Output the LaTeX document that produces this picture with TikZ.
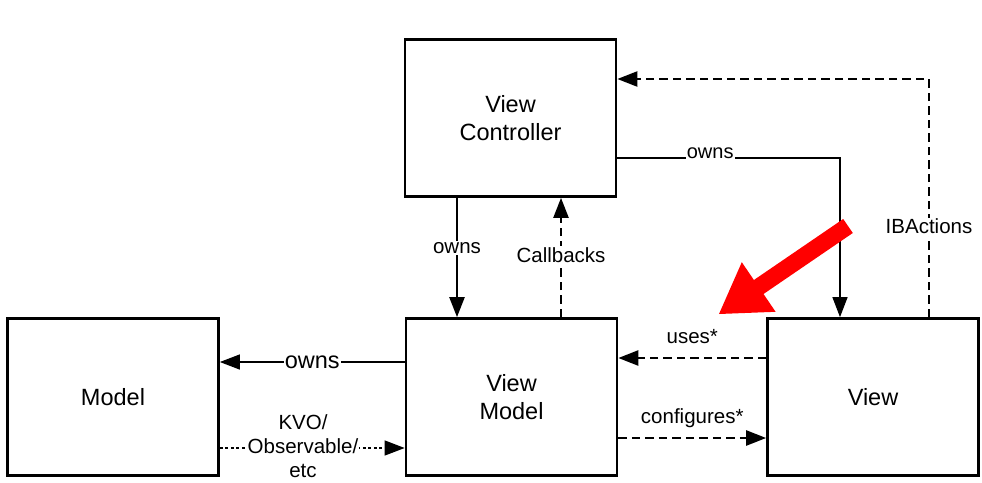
\documentclass[tikz,border=0pt]{standalone}
\usepackage{fontspec}
\setmainfont{Liberation Sans}
\usetikzlibrary{arrows.meta}
\begin{document}
\begin{tikzpicture}[x=1pt,y=-1pt,
  box/.style={draw=black, line width=2.7pt, minimum width=211pt, minimum height=157pt,
    align=center, inner sep=0pt, font=\fontsize{23.5}{28.5}\selectfont},
  lbl/.style={fill=white, inner sep=1.5pt, align=center, font=\fontsize{20.5}{25}\selectfont},
  tip/.style={-{Triangle[length=20pt,width=15pt]}},
  thinline/.style={line width=1.3pt},
  thickline/.style={line width=2.3pt},
  dashline/.style={line width=2.3pt, dash pattern=on 8.5pt off 5pt},
  dotline/.style={line width=1.2pt, dash pattern=on 3pt off 2.5pt}
]
\useasboundingbox[fill=white] (0,0) rectangle (982,482);

\node[box] (vc) at (510.5,118) {View\\Controller};
\node[box] (model) at (113,397) {Model};
\node[box] (vm) at (511.5,397) {View\\Model};
\node[box] (view) at (873,397) {View};

\coordinate (yOwnsM) at (0,362);
\coordinate (yKvo) at (0,448);
\coordinate (yUses) at (0,358);
\coordinate (yConf) at (0,438);
\coordinate (yIB) at (0,79);
\coordinate (yOwnsV) at (0,158);
\coordinate (xOwnsVM) at (457,0);
\coordinate (xCb) at (561,0);
\coordinate (xOwnsV) at (840,0);
\coordinate (xIB) at (929,0);

% View Model -> Model : owns
\draw[thinline, tip] (vm.west |- yOwnsM) -- node[lbl, pos=0.5, font=\fontsize{23.5}{28}\selectfont, inner sep=1pt] {owns} (model.east |- yOwnsM);

% Model -> View Model : KVO
\draw[dotline, tip] (model.east |- yKvo) -- node[lbl, pos=0.45, inner sep=0.5pt, yshift=2pt, font=\fontsize{20.5}{24}\selectfont] {KVO/\\Observable/\\etc} (vm.west |- yKvo);

% View Controller -> View Model : owns
\draw[thickline, tip] (vc.south -| xOwnsVM) -- node[lbl, pos=0.42] {owns} (vm.north -| xOwnsVM);

% View Model -> View Controller : Callbacks
\draw[dashline, tip] (vm.north -| xCb) -- node[lbl, pos=0.52] {Callbacks} (vc.south -| xCb);

% View Controller -> View : owns
\draw[thinline, tip] (vc.east |- yOwnsV) -- node[lbl, pos=0.417, anchor=base, inner ysep=1pt, inner xsep=1pt, font=\fontsize{20}{24}\selectfont] {owns} (xOwnsV |- yOwnsV) -- (view.north -| xOwnsV);

% View -> View Controller : IBActions
\draw[dashline, tip] (view.north -| xIB) -- node[lbl, pos=0.38] {IBActions} (xIB |- yIB) -- (vc.east |- yIB);

% View -> View Model : uses*
\draw[dashline, line width=2.5pt, tip] (view.west |- yUses) -- node[lbl, midway, yshift=21pt] {uses*} (vm.east |- yUses);

% View Model -> View : configures*
\draw[dashline, line width=2.5pt, tip] (vm.east |- yConf) -- node[lbl, midway, yshift=20pt] {configures*} (view.west |- yConf);

% red highlight arrow
\fill[red] (852.8,233.0) -- (843.2,219.0) -- (753.9,280.0) -- (741.8,262.2) -- (719,314)
  -- (775.6,311.8) -- (763.5,294.0) -- cycle;
\end{tikzpicture}
\end{document}
